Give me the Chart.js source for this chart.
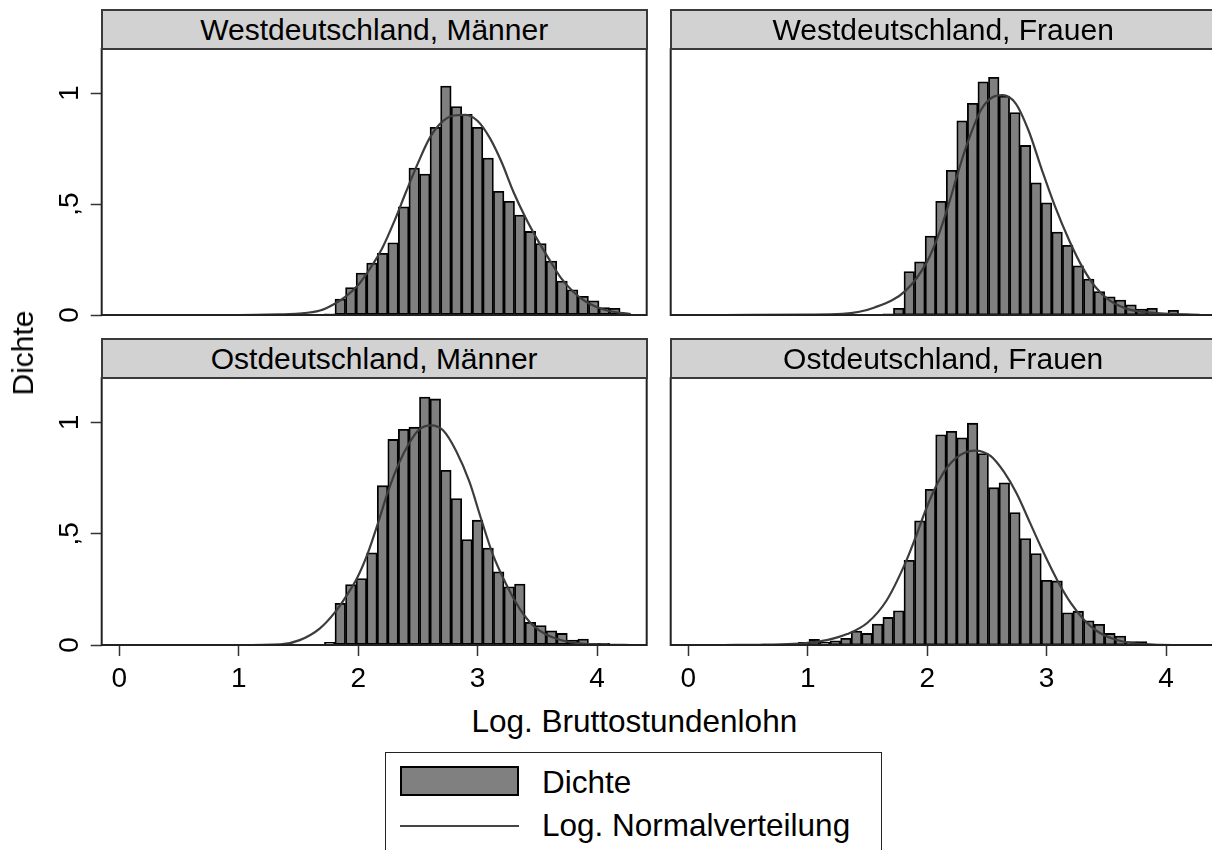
<!DOCTYPE html>
<html><head><meta charset="utf-8">
<script src="https://cdn.jsdelivr.net/npm/chart.js@4.4.1/dist/chart.umd.min.js"></script>
<style>
html,body{margin:0;padding:0;width:1212px;height:850px;overflow:hidden;background:#fff;font-family:"Liberation Sans",Arial,sans-serif;color:#000}
canvas{position:absolute}
.hdr{position:absolute;box-sizing:border-box;height:41px;width:547px;border:2px solid #3a3a3a;background:#d2d2d2;font-size:30px;line-height:37px;text-align:center;white-space:nowrap;overflow:hidden;z-index:2}
.txt{position:absolute;font-size:30px;line-height:30px;white-space:nowrap;z-index:2}
.big{font-size:31.5px;line-height:31.5px}
</style></head><body>
<canvas id="c0" width="660" height="293" style="left:0;top:37px"></canvas>
<canvas id="c1" width="560" height="293" style="left:660px;top:37px"></canvas>
<canvas id="c2" width="660" height="329" style="left:0;top:366px"></canvas>
<canvas id="c3" width="560" height="329" style="left:660px;top:366px"></canvas>
<div class="hdr" id="h0" style="left:100.7px;top:9px"></div>
<div class="hdr" id="h1" style="left:669.7px;top:9px"></div>
<div class="hdr" id="h2" style="left:100.7px;top:338px"></div>
<div class="hdr" id="h3" style="left:669.7px;top:338px"></div>
<div class="txt" style="left:22.5px;top:352.5px;transform:translate(-50%,-50%) rotate(-90deg)">Dichte</div>
<div class="txt big" style="left:634.3px;top:706px;transform:translateX(-50%)">Log. Bruttostundenlohn</div>
<div style="position:absolute;box-sizing:border-box;left:385px;top:752px;width:497px;height:120px;border:1.5px solid #222;background:#fff;z-index:1"></div>
<div style="position:absolute;box-sizing:border-box;left:400px;top:766px;width:119px;height:30px;border:2.5px solid #000;background:#808080;z-index:2"></div>
<div style="position:absolute;left:400px;top:825px;width:119px;height:2px;background:#444;z-index:2"></div>
<div class="txt big" style="left:542px;top:766.6px">Dichte</div>
<div class="txt big" style="left:542px;top:810px">Log. Normalverteilung</div>
<script>
// ---- data ----
const panelTitles = ["Westdeutschland, Männer", "Westdeutschland, Frauen", "Ostdeutschland, Männer", "Ostdeutschland, Frauen"];
const binCenters = [0.3472,0.4356,0.524,0.6124,0.7008,0.7892,0.8776,0.966,1.0544,1.1428,1.2312,1.3196,1.408,1.4964,1.5848,1.6732,1.7616,1.85,1.9384,2.0268,2.1152,2.2036,2.292,2.3804,2.4688,2.5572,2.6456,2.734,2.8224,2.9108,2.9992,3.0876,3.176,3.2644,3.3528,3.4412,3.5296,3.618,3.7064,3.7948,3.8832,3.9716,4.06,4.1484,4.2368];
const westMen = [0,0,0,0,0,0,0,0,0,0,0,0,0,0.005,0,0,0.005,0.072,0.124,0.189,0.234,0.278,0.326,0.488,0.663,0.636,0.847,1.033,0.940,0.905,0.847,0.708,0.558,0.513,0.451,0.377,0.322,0.243,0.153,0.114,0.084,0.064,0.033,0.030,0.005];
const westWomen = [0,0,0,0,0,0,0,0,0,0,0,0.003,0.003,0.003,0,0.005,0.030,0.196,0.240,0.356,0.513,0.653,0.876,0.955,1.052,1.072,0.988,0.913,0.765,0.596,0.506,0.374,0.314,0.222,0.162,0.106,0.082,0.067,0.046,0.027,0.030,0.007,0.021,0.005,0];
const eastMen = [0,0,0,0,0,0,0,0,0,0,0,0,0,0,0,0,0.012,0.187,0.272,0.299,0.414,0.716,0.924,0.969,0.979,1.114,1.106,0.785,0.658,0.474,0.561,0.436,0.329,0.262,0.274,0.102,0.087,0.064,0.052,0.022,0.027,0.007,0.007,0.003,0];
const eastWomen = [0,0,0,0,0.003,0,0.003,0.012,0.025,0.012,0.019,0.030,0.063,0.052,0.094,0.124,0.154,0.381,0.558,0.700,0.945,0.960,0.931,0.997,0.860,0.707,0.729,0.595,0.478,0.411,0.291,0.288,0.145,0.152,0.109,0.093,0.052,0.040,0.015,0.015,0,0,0,0,0];

const westMenCurveX = [0.30,1.00,1.34,1.50,1.68,1.80,1.90,2.00,2.10,2.20,2.30,2.40,2.50,2.60,2.70,2.80,2.90,3.00,3.10,3.20,3.30,3.40,3.50,3.60,3.70,3.80,3.90,4.00,4.10,4.28];
const westMenCurveY = [0.000,0.000,0.003,0.006,0.020,0.050,0.085,0.135,0.210,0.300,0.420,0.555,0.685,0.800,0.870,0.900,0.903,0.875,0.800,0.690,0.555,0.440,0.340,0.250,0.165,0.105,0.062,0.035,0.018,0.004];
const westWomenCurveX = [0.30,1.00,1.29,1.56,1.82,2.00,2.10,2.18,2.27,2.36,2.45,2.54,2.63,2.74,2.85,2.96,3.07,3.19,3.30,3.41,3.52,3.66,3.80,4.08,4.28];
const westWomenCurveY = [0.000,0.002,0.005,0.034,0.110,0.242,0.368,0.500,0.665,0.810,0.925,0.980,0.992,0.955,0.830,0.655,0.490,0.335,0.215,0.125,0.068,0.030,0.014,0.004,0.001];
const eastMenCurveX = [0.30,1.00,1.35,1.51,1.68,1.81,1.90,1.99,2.08,2.17,2.25,2.34,2.43,2.51,2.61,2.71,2.82,2.93,3.03,3.125,3.24,3.35,3.46,3.57,3.71,3.85,4.12,4.28];
const eastMenCurveY = [0.000,0.000,0.003,0.022,0.075,0.150,0.220,0.300,0.412,0.555,0.690,0.815,0.910,0.968,0.987,0.965,0.872,0.735,0.565,0.410,0.272,0.165,0.090,0.048,0.020,0.007,0.001,0.000];
const eastWomenCurveX = [0.30,0.60,0.88,1.00,1.16,1.33,1.50,1.66,1.81,1.90,1.99,2.08,2.17,2.28,2.40,2.53,2.64,2.75,2.86,2.97,3.09,3.20,3.31,3.42,3.56,3.73,3.95,4.28];
const eastWomenCurveY = [0.000,0.001,0.005,0.010,0.022,0.049,0.100,0.200,0.360,0.480,0.610,0.720,0.800,0.855,0.874,0.850,0.780,0.680,0.550,0.420,0.290,0.190,0.115,0.063,0.027,0.007,0.001,0.000];

const xTicks = [0, 1, 2, 3, 4];
const yTicks = [0, 0.5, 1];
const yTickLabels = ["0", ",5", "1"];
const xMin = -0.147, xMax = 4.415, yMin = 0, yMax = 1.2;

// ---- drawing ----
Chart.defaults.font.family = '"Liberation Sans", Arial, sans-serif';
Chart.defaults.color = '#000';

const framePlugin = {
  id: 'frame',
  afterDatasetsDraw(chart) {
    const {ctx, chartArea: a} = chart;
    ctx.save();
    ctx.strokeStyle = '#222';
    ctx.lineWidth = 2;
    ctx.strokeRect(a.left, a.top, a.right - a.left, a.bottom - a.top);
    ctx.restore();
  }
};

function makePanel(idx, bars, cx, cy, showY, showX, padding) {
  document.getElementById('h' + idx).textContent = panelTitles[idx];
  new Chart(document.getElementById('c' + idx), {
    type: 'bar',
    data: {
      datasets: [
        {
          type: 'line',
          data: cx.map((x, i) => ({x: x, y: cy[i]})),
          borderColor: '#3c3c3c',
          borderWidth: 2.2,
          pointRadius: 0,
          cubicInterpolationMode: 'monotone',
          fill: false,
          order: 1
        },
        {
          type: 'bar',
          data: binCenters.map((c, i) => ({x: c, y: bars[i]})),
          backgroundColor: '#808080',
          borderColor: '#000',
          borderWidth: 1.8,
          borderSkipped: false,
          barPercentage: 1,
          categoryPercentage: 1,
          order: 2
        }
      ]
    },
    options: {
      responsive: false,
      animation: false,
      events: [],
      layout: {padding: padding},
      plugins: {legend: {display: false}, tooltip: {enabled: false}},
      scales: {
        x: {
          type: 'linear',
          min: xMin, max: xMax,
          offset: false,
          display: showX,
          afterBuildTicks: s => { s.ticks = xTicks.map(v => ({value: v})); },
          afterFit: s => { s.height = showX ? 50 : 0; s.paddingLeft = 0; s.paddingRight = 0; },
          grid: {offset: false, drawOnChartArea: false, drawTicks: true, tickLength: 11, tickColor: '#333', tickWidth: 1.5},
          border: {display: false},
          ticks: {font: {size: 28}, padding: 6, color: '#000', maxRotation: 0, autoSkip: false,
                  callback: v => String(v)}
        },
        y: {
          type: 'linear',
          min: yMin, max: yMax,
          display: showY,
          afterBuildTicks: s => { s.ticks = yTicks.map(v => ({value: v})); },
          afterFit: s => { s.width = showY ? 101.7 : 0; s.paddingTop = 0; s.paddingBottom = 0; },
          grid: {drawOnChartArea: false, drawTicks: true, tickLength: 11, tickColor: '#333', tickWidth: 1.5},
          border: {display: false},
          ticks: {font: {size: 28}, padding: 9, color: '#000', minRotation: 90, maxRotation: 90, crossAlign: 'center',
                  callback: v => yTickLabels[yTicks.indexOf(v)]}
        }
      }
    },
    plugins: [framePlugin]
  });
}

makePanel(0, westMen, westMenCurveX, westMenCurveY, true, false, {top: 12, bottom: 15, left: 0, right: 13.3});
makePanel(1, westWomen, westWomenCurveX, westWomenCurveY, false, false, {top: 12, bottom: 15, left: 10.7, right: 4.3});
makePanel(2, eastMen, eastMenCurveX, eastMenCurveY, true, true, {top: 12, bottom: 0, left: 0, right: 13.3});
makePanel(3, eastWomen, eastWomenCurveX, eastWomenCurveY, false, true, {top: 12, bottom: 0, left: 10.7, right: 4.3});
</script>
</body></html>
